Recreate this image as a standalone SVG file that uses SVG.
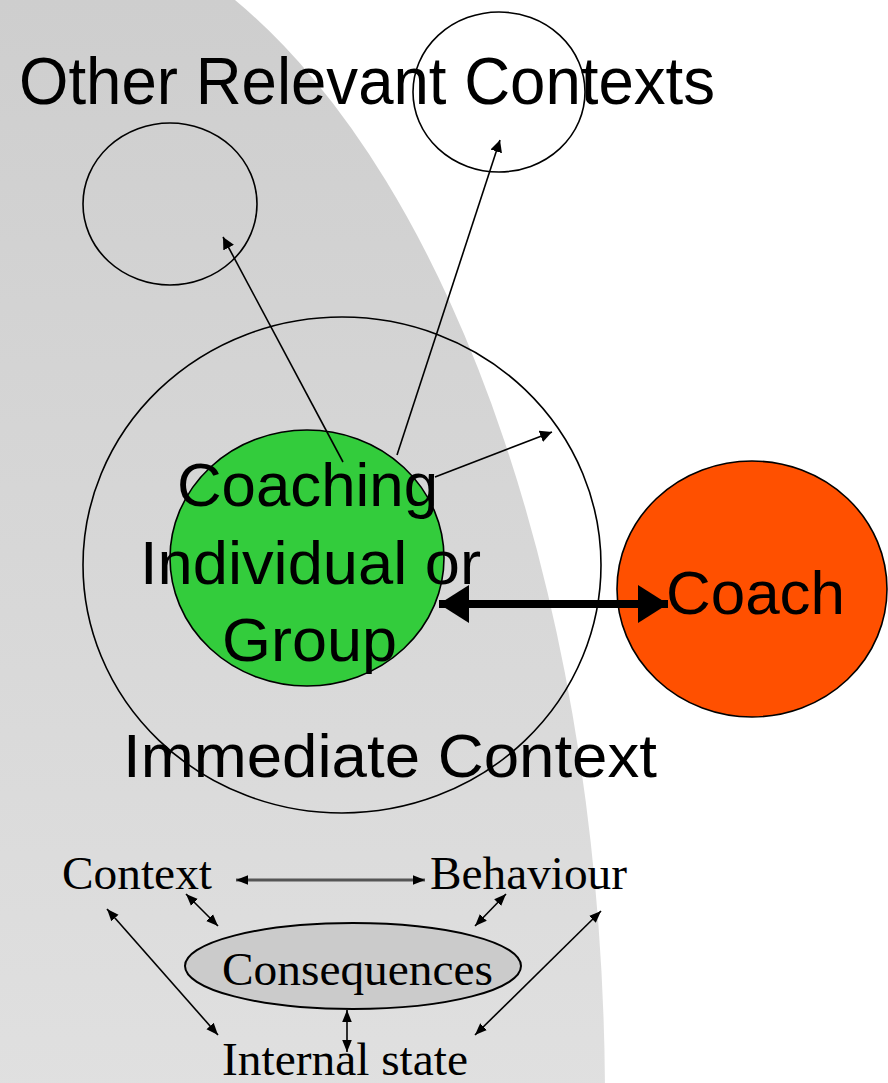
<svg xmlns="http://www.w3.org/2000/svg" width="888" height="1083" viewBox="0 0 888 1083">
<defs>
<linearGradient id="bg" x1="0" y1="0" x2="0" y2="1">
<stop offset="0" stop-color="#cecece"/>
<stop offset="1" stop-color="#e0e0e0"/>
</linearGradient>
<marker id="ah" viewBox="0 0 10 10" refX="10" refY="5" markerWidth="12" markerHeight="12" markerUnits="userSpaceOnUse" orient="auto-start-reverse">
<path d="M0,0 L10,5 L0,10 z" fill="#000"/>
</marker>
<marker id="ahs" viewBox="0 0 10 10" refX="10" refY="5" markerWidth="12" markerHeight="12" markerUnits="userSpaceOnUse" orient="auto-start-reverse">
<path d="M0,1 L10,5 L0,9 z" fill="#000"/>
</marker>
<marker id="big" viewBox="0 0 10 10" refX="10" refY="5" markerWidth="30" markerHeight="38" markerUnits="userSpaceOnUse" orient="auto-start-reverse" preserveAspectRatio="none">
<path d="M0,0 L10,5 L0,10 z" fill="#000"/>
</marker>
</defs>
<style>
.ring{fill:none;stroke:#000;stroke-width:1.6}
.sans{font-family:"Liberation Sans",Arial,sans-serif;fill:#000}
.serif{font-family:"Liberation Serif","Times New Roman",serif;fill:#000}
.conn line{stroke:#000;stroke-width:1.6}
</style>
<rect x="0" y="0" width="888" height="1083" fill="#fff"/>
<path id="shade" d="M0,0 L235,0 A605,1194 0 0 1 605,1100 L605,1083 L0,1083 Z" fill="url(#bg)"/>

<g id="other-context-1"><ellipse class="ring" cx="170" cy="204" rx="87" ry="81"/></g>
<g id="other-context-2"><ellipse class="ring" cx="499" cy="92" rx="86" ry="80"/></g>
<g id="title"><text class="sans" x="19" y="104" font-size="66" textLength="696" lengthAdjust="spacingAndGlyphs">Other Relevant Contexts</text></g>
<g id="immediate-context"><ellipse class="ring" cx="342" cy="565" rx="259" ry="248"/>
<text class="sans" x="123" y="777" font-size="61" textLength="534" lengthAdjust="spacingAndGlyphs">Immediate Context</text></g>
<g id="coachee"><ellipse cx="307" cy="558" rx="137" ry="128" fill="#33cc3c" stroke="#000" stroke-width="1.6"/>
<text class="sans" font-size="61"><tspan x="177" y="506" textLength="261" lengthAdjust="spacingAndGlyphs">Coaching</tspan></text>
<text class="sans" font-size="61"><tspan x="140" y="584" textLength="341" lengthAdjust="spacingAndGlyphs">Individual or</tspan></text>
<text class="sans" font-size="61"><tspan x="222" y="661" textLength="175" lengthAdjust="spacingAndGlyphs">Group</tspan></text></g>
<g id="coach"><ellipse cx="752" cy="589" rx="135" ry="128" fill="#ff5000" stroke="#000" stroke-width="1.6"/>
<text class="sans" x="666" y="614" font-size="61" textLength="179" lengthAdjust="spacingAndGlyphs">Coach</text></g>

<g id="bottom-nodes">
<g id="context"><text class="serif" x="62" y="889" font-size="46" textLength="150" lengthAdjust="spacingAndGlyphs">Context</text></g>
<g id="behaviour"><text class="serif" x="430" y="889" font-size="46" textLength="197" lengthAdjust="spacingAndGlyphs">Behaviour</text></g>
<g id="consequences"><ellipse cx="353" cy="966" rx="168" ry="43" fill="#cbcbcb" stroke="#000" stroke-width="2"/>
<text class="serif" x="222" y="985" font-size="46" textLength="271" lengthAdjust="spacingAndGlyphs">Consequences</text></g>
<g id="internal-state"><text class="serif" x="222" y="1075" font-size="46" textLength="246" lengthAdjust="spacingAndGlyphs">Internal state</text></g>
</g>

<g id="connectors" class="conn">
<line x1="343" y1="462" x2="223" y2="237" marker-end="url(#ah)"/>
<line x1="397" y1="455" x2="500" y2="140" marker-end="url(#ah)"/>
<line x1="435" y1="477" x2="552" y2="432" marker-end="url(#ah)"/>
<line x1="439" y1="604" x2="668" y2="604" style="stroke-width:8" marker-start="url(#big)" marker-end="url(#big)"/>
<line x1="236" y1="880" x2="425" y2="880" style="stroke:#555;stroke-width:3" marker-start="url(#ahs)" marker-end="url(#ahs)"/>
<line x1="186" y1="894" x2="218" y2="926" marker-start="url(#ahs)" marker-end="url(#ahs)"/>
<line x1="506" y1="894" x2="475" y2="926" marker-start="url(#ahs)" marker-end="url(#ahs)"/>
<line x1="107" y1="909" x2="218" y2="1035" marker-start="url(#ahs)" marker-end="url(#ahs)"/>
<line x1="601" y1="911" x2="475" y2="1035" marker-start="url(#ahs)" marker-end="url(#ahs)"/>
<line x1="347" y1="1010" x2="347" y2="1052" marker-start="url(#ahs)" marker-end="url(#ahs)"/>
</g>
</svg>
